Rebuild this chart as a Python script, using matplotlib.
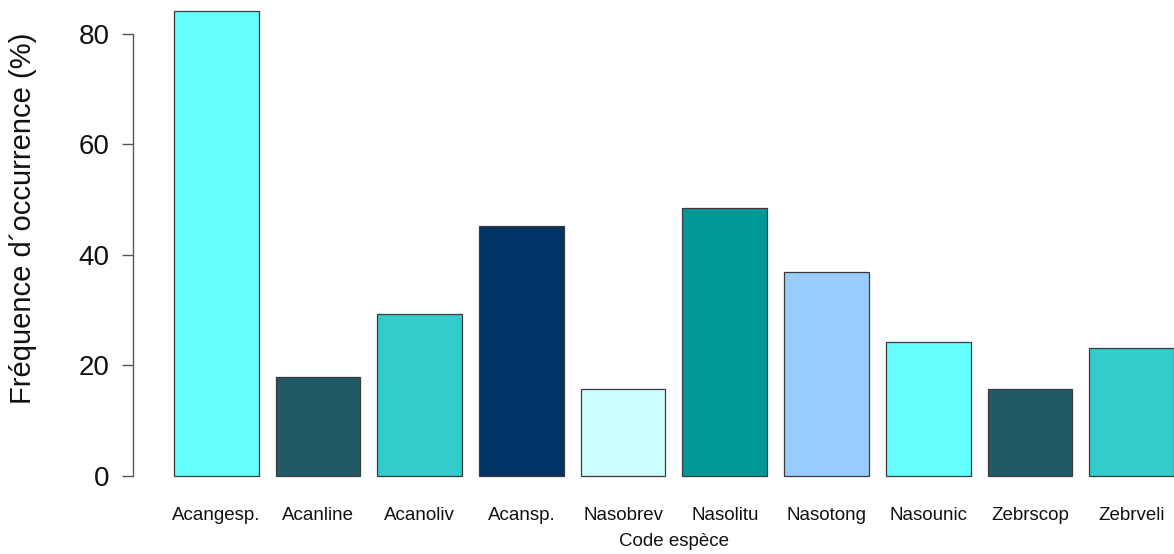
import matplotlib
matplotlib.use("Agg")
import matplotlib.pyplot as plt

categories = ["Acangesp.", "Acanline", "Acanoliv", "Acansp.", "Nasobrev",
              "Nasolitu", "Nasotong", "Nasounic", "Zebrscop", "Zebrveli"]
values = [84.1, 17.9, 29.3, 45.2, 15.7, 48.5, 36.9, 24.2, 15.7, 23.1]
colors = ["#66FFFF", "#225966", "#33CCCC", "#003366", "#CCFFFF",
          "#009999", "#99CCFF", "#66FFFF", "#225966", "#33CCCC"]
yticks = [0, 20, 40, 60, 80]

plt.rcParams['font.family'] = ['Liberation Sans', 'DejaVu Sans']

W, H = 1174, 554
fig = plt.figure(figsize=(W / 100, H / 100), dpi=100)
ax_left = 133 / W
ax_bottom = (H - 476) / H
ax = fig.add_axes([ax_left, ax_bottom, 1 - ax_left, 1 - ax_bottom])

# R barplot style positions: width 1, space 0.2
centers = [0.7 + 1.2 * i for i in range(len(categories))]
ax.bar(centers, values, width=1.0, color=colors, edgecolor="#3a3a3a",
       linewidth=0.9, clip_on=False)

ax.set_xlim(-0.283, 12.0)
ax.set_ylim(0, 86.15)

for s in ["top", "right", "bottom"]:
    ax.spines[s].set_visible(False)
ax.spines["left"].set_bounds(0, 80)
ax.spines["left"].set_color("#555555")
ax.spines["left"].set_linewidth(1.0)

ax.set_yticks(yticks)
ax.set_yticklabels([str(v) for v in yticks], fontsize=20)
ax.tick_params(axis="y", direction="out", length=8, width=1.0,
               color="#555555", pad=9, labelcolor="#111111")

ax.set_xticks(centers)
ax.set_xticklabels(categories, fontsize=13.5, color="#111111")
ax.tick_params(axis="x", length=0, pad=22)

fig.text(23 / W, 1 - 218 / H, "Fréquence d\u00b4occurrence (%)", rotation=90,
         ha="center", va="center", fontsize=21, color="#111111")
fig.text(674 / W, 1 - 541 / H, "Code espèce", ha="center", va="center",
         fontsize=13.5, color="#111111")

fig.savefig("out.png", dpi=100)
